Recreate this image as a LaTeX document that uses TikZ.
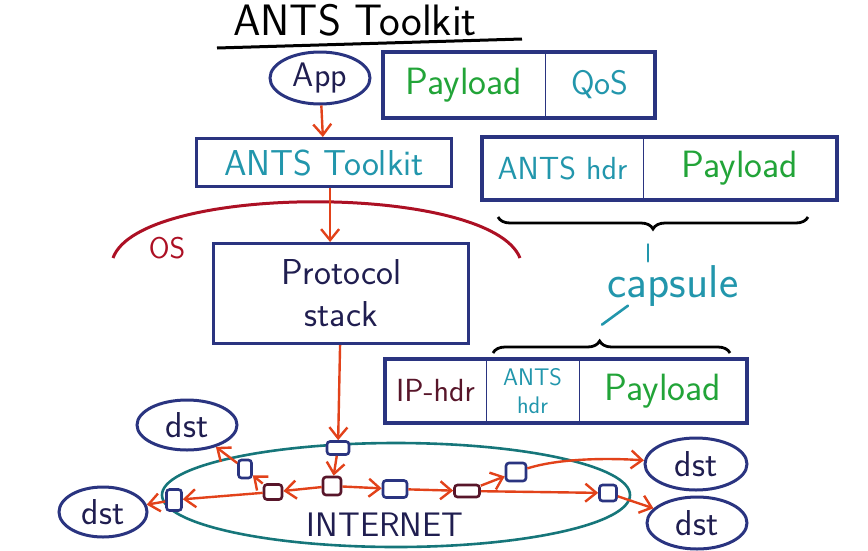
\documentclass[tikz,border=0pt]{standalone}
\usepackage{fontspec}
\usepackage{tikz}
\usetikzlibrary{positioning,arrows.meta,shapes,calc}
\usetikzlibrary{decorations.pathreplacing}
\renewcommand{\familydefault}{\sfdefault}
\definecolor{navy}{RGB}{42,52,128}
\definecolor{ink}{RGB}{32,30,80}
\definecolor{flowred}{RGB}{226,66,26}
\definecolor{osred}{RGB}{172,16,36}
\definecolor{capteal}{RGB}{34,150,172}
\definecolor{paygreen}{RGB}{34,164,56}
\definecolor{iproon}{RGB}{88,22,42}
\definecolor{netteal}{RGB}{22,118,122}
\newcommand{\handsize}[1]{\fontsize{#1}{#1}\selectfont}
\tikzset{
  frame/.style={draw=navy, line width=3.2pt},
  cell/.style={draw=navy, line width=1pt, inner sep=0pt, outer sep=0pt},
  host/.style={ellipse, draw=navy, line width=3pt, inner sep=0pt, text=ink, font=\handsize{36}},
  router/.style={draw=navy, line width=2.6pt, rounded corners=3pt, fill=white, inner sep=0pt},
  flow/.style={draw=flowred, line width=2.4pt, -{Straight Barb[length=11pt,width=18pt]}},
  curly/.style={decorate, draw=black, line width=2.8pt, decoration={brace, amplitude=12pt}},
  tickline/.style={draw=capteal, line width=2.6pt, line cap=round}
}

\begin{document}
\begin{tikzpicture}[x=1pt, y=-1pt]
  \useasboundingbox (0,0) rectangle (868,550);

  % title
  \node[font=\handsize{44}] (title) at (355,20) {ANTS Toolkit};
  \draw[line width=3pt] (217,48) -- (522,39);

  % stack on the host
  \node[host, minimum width=100pt, minimum height=52pt, font=\handsize{34}] (app) at (320,78) {App};
  \node[frame, anchor=north west, minimum width=255pt, minimum height=48pt,
        text=capteal, font=\handsize{36}] (tk) at (195,137) {ANTS Toolkit};
  \node[frame, anchor=north west, minimum width=255pt, minimum height=100pt,
        text=ink, align=center, font=\handsize{36}] (stack) at (212,242) {Protocol\\[6pt]stack};

  \draw[osred, line width=3pt] (113,258) .. controls (140,183) and (490,183) .. (520,258);
  \node[text=osred, inner sep=1pt, font=\handsize{30}] (os) at (167,248) {OS};

  % packets
  \node[cell, anchor=north west, minimum width=162pt, minimum height=66pt,
        text=paygreen, font=\handsize{38}] (pl1) at (383,52) {Payload};
  \node[cell, right=0pt of pl1, minimum width=110pt, minimum height=66pt,
        text=capteal, font=\handsize{34}] (qos) {QoS};
  \draw[frame] (pl1.north west) rectangle (qos.south east);

  \node[cell, anchor=north west, minimum width=161pt, minimum height=63pt,
        text=capteal, font=\handsize{32}] (ah1) at (482,137) {ANTS hdr};
  \node[cell, right=0pt of ah1, minimum width=194pt, minimum height=63pt,
        text=paygreen, font=\handsize{38}] (pl2) {Payload};
  \draw[frame] (ah1.north west) rectangle (pl2.south east);

  \node[cell, anchor=north west, minimum width=101pt, minimum height=64pt,
        text=iproon, font=\handsize{32}] (iph) at (385,359) {IP-hdr};
  \node[cell, right=0pt of iph, minimum width=93pt, minimum height=64pt,
        text=capteal, align=center, font=\handsize{24}] (ah2) {ANTS\\[4pt]hdr};
  \node[cell, right=0pt of ah2, minimum width=168pt, minimum height=64pt,
        text=paygreen, font=\handsize{38}] (pl3) {Payload};
  \draw[frame] (iph.north west) rectangle (pl3.south east);

  % capsule
  \draw[curly] ([xshift=-29pt,yshift=-17pt]pl2.south east) -- ([xshift=16pt,yshift=-17pt]ah1.south west);
  \draw[curly, decoration={aspect=0.45}] ([xshift=108pt,yshift=6pt]iph.north west) -- ([xshift=-17pt,yshift=6pt]pl3.north east);
  \node[text=capteal, inner sep=2pt, font=\handsize{46}] (caps) at (673,286) {capsule};
  \draw[tickline] ([xshift=-25pt,yshift=2pt]caps.north) -- ++(0,-17);
  \draw[tickline] ([xshift=-45pt,yshift=3pt]caps.south) -- ++(-26,19);

  % internet
  \node[ellipse, draw=netteal, line width=2.6pt, minimum width=468pt, minimum height=104pt] (net) at (396,495) {};
  \node[text=ink, font=\handsize{34}] (inet) at (385,525) {INTERNET};

  \foreach \name/\px/\py/\w/\h/\col in {r0/338/448/22/13/navy, r1/245/469/13/18/navy,
      r2/273/492/18/15/iproon, r3/332/486/18/18/iproon, r4/395/489/24/17/navy,
      r5/467/491/25/12/iproon, r6/516/472/20/18/navy, r7/608/493/17/16/navy,
      r8/174/500/15/21/navy}
    \node[router, draw=\col, minimum width=\w, minimum height=\h] (\name) at (\px,\py) {};

  \node[host, minimum width=100pt, minimum height=50pt] (d1) at (187,425) {dst};
  \node[host, minimum width=88pt, minimum height=50pt] (d2) at (103,512) {dst};
  \node[host, minimum width=102pt, minimum height=52pt] (d3) at (696,464) {dst};
  \node[host, minimum width=100pt, minimum height=52pt] (d4) at (697,523) {dst};

  % flows
  \draw[flow] (app) -- (tk);
  \draw[flow] ([xshift=6pt]tk.south) -- ([xshift=-11pt]stack.north);
  \draw[flow] (stack) -- (r0);
  \draw[flow] (r0) -- (r3);
  \draw[flow] (r3) -- (r2);
  \draw[flow] (r2) -- (r8);
  \draw[flow] (r8) -- (d2);
  \draw[flow] (r2) -- (r1);
  \draw[flow] (r1) -- (d1);
  \draw[flow] (r3) -- (r4);
  \draw[flow] (r4) -- (r5);
  \draw[flow] (r5) -- (r6);
  \draw[flow] (r6) .. controls (560,458) and (610,458) .. (d3);
  \draw[flow] (r5) -- (r7);
  \draw[flow] (r7) -- (d4);
\end{tikzpicture}
\end{document}
